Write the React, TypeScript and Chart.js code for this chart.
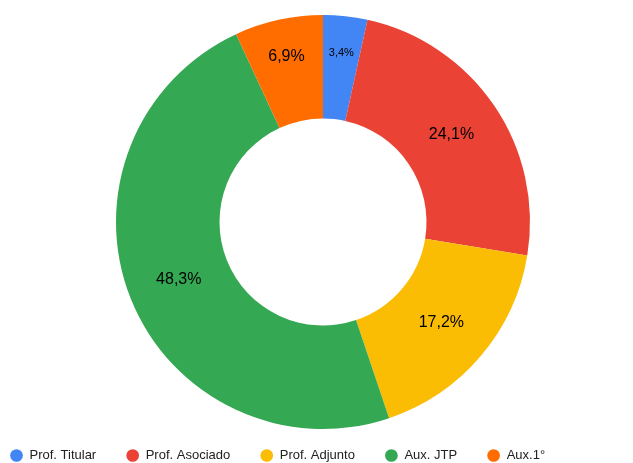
import React, { useEffect, useRef } from "react";
import { Chart, registerables } from "chart.js";

Chart.register(...registerables);

const categories = ["Prof. Titular", "Prof. Asociado", "Prof. Adjunto", "Aux. JTP", "Aux.1°"];
const counts = [1, 7, 5, 14, 2];
const colors = ["#4285F4", "#EA4335", "#FBBC04", "#34A853", "#FF6D01"];

const FONT = '"Liberation Sans", Arial, sans-serif';

const sliceLabels = {
  id: "sliceLabels",
  afterDatasetsDraw(chart: any) {
    const ctx = chart.ctx;
    const meta = chart.getDatasetMeta(0);
    const data = chart.data.datasets[0].data as number[];
    const total = data.reduce((a, b) => a + b, 0);
    ctx.save();
    ctx.textAlign = "center";
    ctx.textBaseline = "middle";
    ctx.fillStyle = "#000000";
    meta.data.forEach((arc: any, i: number) => {
      const { x, y, startAngle, endAngle, innerRadius, outerRadius } = arc.getProps(
        ["x", "y", "startAngle", "endAngle", "innerRadius", "outerRadius"],
        true
      );
      const frac = data[i] / total;
      const mid = (startAngle + endAngle) / 2;
      const t = frac < 0.1 ? 0.64 : 0.5;
      const r = innerRadius + (outerRadius - innerRadius) * t;
      const size = frac < 0.05 ? 11 : 16;
      ctx.font = `${size}px ${FONT}`;
      const text = (frac * 100).toFixed(1).replace(".", ",") + "%";
      ctx.fillText(text, x + Math.cos(mid) * r, y + Math.sin(mid) * r);
    });
    ctx.restore();
  },
};

export default function App() {
  const ref = useRef<HTMLCanvasElement | null>(null);
  useEffect(() => {
    if (!ref.current) return;
    const chart = new Chart(ref.current, {
      type: "doughnut",
      data: {
        labels: categories,
        datasets: [
          {
            data: counts,
            backgroundColor: colors,
            borderWidth: 0,
            hoverOffset: 0,
          },
        ],
      },
      options: {
        responsive: false,
        animation: false,
        radius: 207,
        cutout: "50%",
        layout: { padding: { top: 25, left: 0, right: 0, bottom: 0 } },
        plugins: {
          tooltip: { enabled: false },
          legend: {
            display: true,
            position: "bottom",
            align: "start",
            labels: {
              usePointStyle: true,
              pointStyle: "circle",
              boxHeight: 9,
              boxWidth: 13,
              padding: 30,
              color: "#222222",
              font: { size: 13, family: FONT },
            },
          },
        },
      },
      plugins: [sliceLabels],
    } as any);
    return () => chart.destroy();
  }, []);
  return (
    <div style={{ position: "fixed", left: -20, top: 0, width: 686, height: 472, overflow: "hidden" }}>
      <canvas ref={ref} width={686} height={472} style={{ display: "block" }} />
    </div>
  );
}
